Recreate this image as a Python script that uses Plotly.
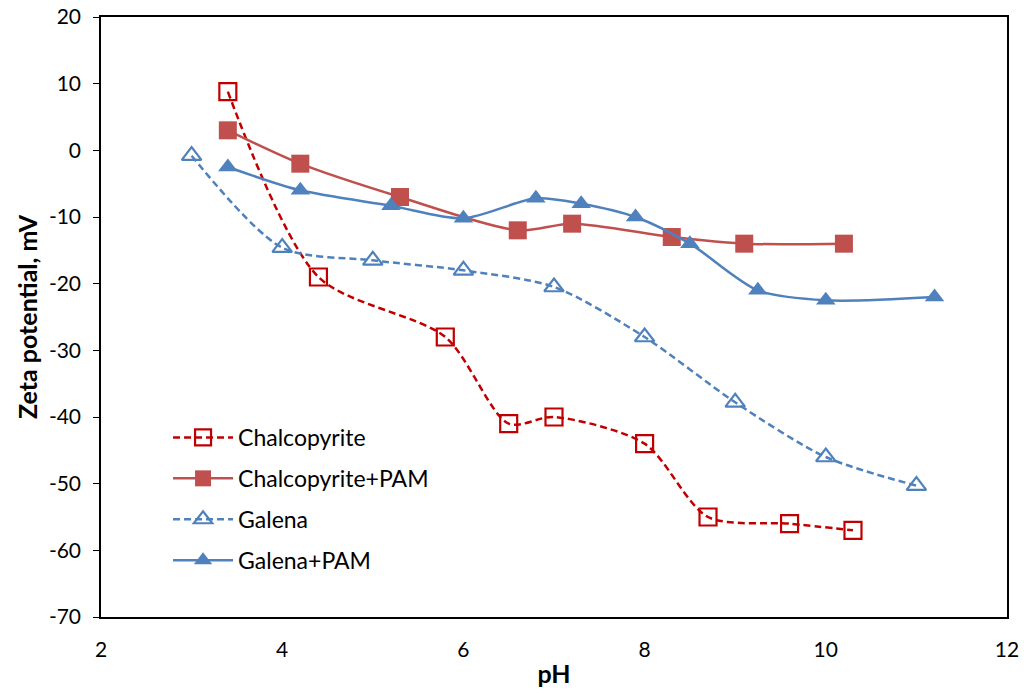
import plotly.graph_objects as go

# Data
chalco_ph = [3.4, 4.4, 5.8, 6.5, 7.0, 8.0, 8.7, 9.6, 10.3]
chalco_zeta = [8.8, -19, -28, -41, -40, -44, -55, -56, -57]

chalco_pam_ph = [3.4, 4.2, 5.3, 6.6, 7.2, 8.3, 9.1, 10.2]
chalco_pam_zeta = [3, -2, -7, -12, -11, -13, -14, -14]

galena_ph = [3.0, 4.0, 5.0, 6.0, 7.0, 8.0, 9.0, 10.0, 11.0]
galena_zeta = [-0.8, -14.6, -16.5, -18, -20.5, -28, -37.8, -46, -50.3]

galena_pam_ph = [3.4, 4.2, 5.2, 6.0, 6.8, 7.3, 7.9, 8.5, 9.25, 10.0, 11.2]
galena_pam_zeta = [-2.5, -6, -8.3, -10.2, -7.2, -8, -10, -14, -21, -22.5, -22]

x_ticks = [2, 4, 6, 8, 10, 12]
y_ticks = [20, 10, 0, -10, -20, -30, -40, -50, -60, -70]

FONT = "Lato"
fig = go.Figure()

fig.add_trace(go.Scatter(
    x=chalco_ph, y=chalco_zeta, name="Chalcopyrite", legendgroup="a",
    mode="lines+markers",
    line=dict(color="#C00000", width=2.5, dash="7px,4px", shape="spline", smoothing=0.8),
    marker=dict(symbol="square-open", size=17, color="#C00000", line=dict(width=2.2, color="#C00000")),
))
fig.add_trace(go.Scatter(
    x=chalco_pam_ph, y=chalco_pam_zeta, name="Chalcopyrite+PAM", legendgroup="b",
    mode="lines+markers",
    line=dict(color="#C0504D", width=2.5, shape="spline", smoothing=0.8),
    marker=dict(symbol="square", size=18, color="#C0504D"),
))
fig.add_trace(go.Scatter(
    x=galena_ph, y=galena_zeta, name="Galena", legendgroup="c",
    mode="lines+markers",
    line=dict(color="#4F81BD", width=2.5, dash="7px,4px", shape="spline", smoothing=0.8),
    marker=dict(symbol="triangle-up-open", size=17, color="#4F81BD", line=dict(width=2.2, color="#4F81BD")),
))
fig.add_trace(go.Scatter(
    x=galena_pam_ph, y=galena_pam_zeta, name="Galena+PAM", legendgroup="d",
    mode="lines+markers",
    line=dict(color="#4F81BD", width=2.5, shape="spline", smoothing=0.8),
    marker=dict(symbol="triangle-up", size=17, color="#4F81BD"),
))

fig.update_layout(
    width=1024, height=694,
    margin=dict(l=101, r=17, t=17, b=77, autoexpand=False),
    paper_bgcolor="white", plot_bgcolor="white",
    font=dict(family=FONT, size=21, color="black"),
    showlegend=True,
    legend=dict(
        x=0.074, y=0.335, xanchor="left", yanchor="top",
        bgcolor="rgba(0,0,0,0)", font=dict(family=FONT, size=23, color="black"),
        tracegroupgap=8, itemwidth=60,
    ),
    xaxis=dict(
        range=[2, 12], tickvals=x_ticks, ticktext=[str(v) for v in x_ticks],
        showgrid=False, zeroline=False, showline=True, linecolor="black", linewidth=1.5,
        mirror=True, ticks="", ticklabelstandoff=13, automargin=False,
        tickfont=dict(family=FONT, size=21),
        title=dict(text="<b>pH</b>", font=dict(family=FONT, size=25), standoff=6),
    ),
    xaxis2=dict(
        range=[2, 12], tickvals=x_ticks, overlaying="x", anchor="free",
        position=70 / 90, side="bottom", showgrid=False, zeroline=False,
        showline=True, linecolor="black", linewidth=1.5, automargin=False,
        ticks="outside", ticklen=6, tickwidth=1.3, tickcolor="black", showticklabels=False,
    ),
    yaxis=dict(
        range=[-70, 20], tickvals=y_ticks, ticktext=[str(v) for v in y_ticks],
        showgrid=False, zeroline=False, showline=True, linecolor="black", linewidth=1.5,
        mirror=True, ticks="outside", ticklen=6, tickwidth=1.3, tickcolor="black",
        ticklabelstandoff=8, automargin=False,
        tickfont=dict(family=FONT, size=21),
        title=dict(text="<b>Zeta potential, mV</b>", font=dict(family=FONT, size=25), standoff=4),
    ),
)

fig.write_html("out.html")
